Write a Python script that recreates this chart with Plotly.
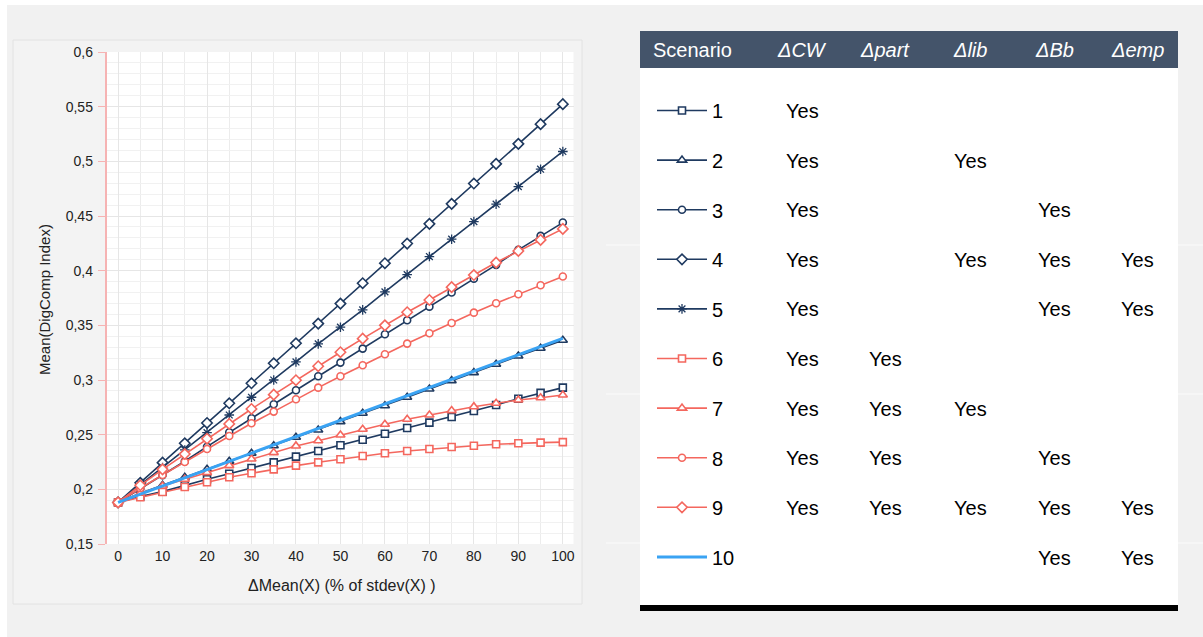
import plotly.graph_objects as go

W, H = 1203, 637

# ---------------- data ----------------
x_vals = [0, 5, 10, 15, 20, 25, 30, 35, 40, 45, 50, 55, 60, 65, 70, 75, 80, 85, 90, 95, 100]

s1 = [0.188, 0.1935, 0.1979, 0.2037, 0.2092, 0.2143, 0.2195, 0.2247, 0.2299, 0.2351, 0.2403,
      0.2454, 0.2509, 0.2561, 0.2610, 0.2662, 0.2717, 0.2772, 0.2829, 0.2882, 0.2930]
s2 = [0.188, 0.1964, 0.2037, 0.2110, 0.2183, 0.2257, 0.2330, 0.2399, 0.2476, 0.2543, 0.2619,
      0.2696, 0.2765, 0.2842, 0.2918, 0.2994, 0.3067, 0.3144, 0.3220, 0.3290, 0.3363]
s3 = [0.188, 0.2005, 0.2130, 0.2257, 0.2390, 0.2522, 0.2650, 0.2778, 0.2906, 0.3034, 0.3159,
      0.3287, 0.3418, 0.3547, 0.3671, 0.3800, 0.3927, 0.4053, 0.4190, 0.4318, 0.4440]
s4 = [0.188, 0.2060, 0.2244, 0.2421, 0.2607, 0.2787, 0.2970, 0.3153, 0.3336, 0.3516, 0.3699,
      0.3885, 0.4068, 0.4248, 0.4428, 0.4611, 0.4797, 0.4977, 0.5160, 0.5340, 0.5523]
s5 = [0.188, 0.2040, 0.2200, 0.2360, 0.2518, 0.2680, 0.2842, 0.3000, 0.3165, 0.3330, 0.3483,
      0.3641, 0.3806, 0.3964, 0.4129, 0.4288, 0.4449, 0.4608, 0.4769, 0.4928, 0.5090]
s6 = [0.188, 0.1927, 0.1976, 0.2022, 0.2065, 0.2110, 0.2147, 0.2183, 0.2217, 0.2247, 0.2275,
      0.2305, 0.2330, 0.2351, 0.2369, 0.2387, 0.2399, 0.2412, 0.2421, 0.2427, 0.2432]
s7 = [0.188, 0.1964, 0.2031, 0.2092, 0.2153, 0.2217, 0.2278, 0.2336, 0.2397, 0.2445, 0.2497,
      0.2550, 0.2595, 0.2641, 0.2680, 0.2720, 0.2756, 0.2787, 0.2817, 0.2838, 0.2863]
s8 = [0.188, 0.2010, 0.2131, 0.2250, 0.2369, 0.2488, 0.2604, 0.2711, 0.2824, 0.2930, 0.3034,
      0.3135, 0.3236, 0.3333, 0.3428, 0.3522, 0.3616, 0.3702, 0.3784, 0.3867, 0.3946]
s9 = [0.188, 0.2037, 0.2183, 0.2323, 0.2463, 0.2598, 0.2735, 0.2866, 0.2998, 0.3126, 0.3254,
      0.3378, 0.3500, 0.3620, 0.3732, 0.3849, 0.3960, 0.4074, 0.4180, 0.4281, 0.4382]
s10 = [0.188, 0.1957, 0.2032, 0.2106, 0.2181, 0.2256, 0.2331, 0.2405, 0.2480, 0.2554, 0.2629,
       0.2704, 0.2779, 0.2853, 0.2928, 0.3003, 0.3078, 0.3152, 0.3227, 0.3302, 0.3381]

scenario_names = ["1", "2", "3", "4", "5", "6", "7", "8", "9", "10"]
series = [s1, s2, s3, s4, s5, s6, s7, s8, s9, s10]

table_columns = ["ΔCW", "Δpart", "Δlib", "ΔBb", "Δemp"]
yes_cw   = [1, 1, 1, 1, 1, 1, 1, 1, 1, 0]
yes_part = [0, 0, 0, 0, 0, 1, 1, 1, 1, 0]
yes_lib  = [0, 1, 0, 1, 0, 0, 1, 0, 1, 0]
yes_bb   = [0, 0, 1, 1, 1, 0, 0, 1, 1, 1]
yes_emp  = [0, 0, 0, 1, 1, 0, 0, 0, 1, 1]

y_tick_vals = [0.15, 0.2, 0.25, 0.3, 0.35, 0.4, 0.45, 0.5, 0.55, 0.6]
x_tick_vals = [0, 10, 20, 30, 40, 50, 60, 70, 80, 90, 100]

# ---------------- styles ----------------
NAVY = "#1f3a60"
RED = "#f4675e"
BLUE = "#3aa3f3"
FONT = "Liberation Sans, Arial, Helvetica, sans-serif"

styles = [
    (NAVY, "square", 7), (NAVY, "triangle-up", 8), (NAVY, "circle", 7),
    (NAVY, "diamond", 8), (NAVY, "asterisk", 8),
    (RED, "square", 7), (RED, "triangle-up", 8), (RED, "circle", 7),
    (RED, "diamond", 8), (BLUE, None, 0),
]


def px_x(p):
    return p / W


def px_y(p):
    return 1 - p / H


fig = go.Figure()

for i, (name, vals) in enumerate(zip(scenario_names, series)):
    color, sym, size = styles[i]
    if sym is None:
        fig.add_trace(go.Scatter(
            x=x_vals, y=vals, name=name, mode="lines", legendgroup=name,
            line=dict(color=color, width=3),
        ))
    else:
        if sym == "asterisk":
            mk = dict(symbol=sym, size=size, color=color,
                      line=dict(color=color, width=1.3))
        else:
            mk = dict(symbol=sym, size=size, color="white",
                      line=dict(color=color, width=1.6))
        fig.add_trace(go.Scatter(
            x=x_vals, y=vals, name=name, mode="lines+markers", legendgroup=name,
            line=dict(color=color, width=1.6), marker=mk,
        ))

shapes = []
# white strips at top / left edges
shapes.append(dict(type="rect", xref="paper", yref="paper", x0=0, x1=1, y0=px_y(5), y1=1,
                   fillcolor="white", line=dict(width=0), layer="below"))
shapes.append(dict(type="rect", xref="paper", yref="paper", x0=0, x1=px_x(7), y0=0, y1=1,
                   fillcolor="white", line=dict(width=0), layer="below"))
# chart panel
shapes.append(dict(type="rect", xref="paper", yref="paper", x0=px_x(13), x1=px_x(582),
                   y0=px_y(604), y1=px_y(40), fillcolor="#f3f3f3",
                   line=dict(color="#e2e2e2", width=1), layer="below"))
# plot area background (white)
shapes.append(dict(type="rect", xref="x domain", yref="y domain", x0=0, x1=1, y0=0, y1=1,
                   fillcolor="white", line=dict(width=0), layer="below"))
# faint lines on right side
for yy in [245, 394, 543]:
    shapes.append(dict(type="line", xref="paper", yref="paper", x0=px_x(606), x1=1,
                       y0=px_y(yy), y1=px_y(yy), line=dict(color="#fbfbfb", width=1),
                       layer="below"))
# table body, header and bottom bar
shapes.append(dict(type="rect", xref="paper", yref="paper", x0=px_x(640), x1=px_x(1178),
                   y0=px_y(606), y1=px_y(68), fillcolor="white", line=dict(width=0),
                   layer="below"))
shapes.append(dict(type="rect", xref="paper", yref="paper", x0=px_x(640), x1=px_x(1178),
                   y0=px_y(68), y1=px_y(31), fillcolor="#44546a", line=dict(width=0),
                   layer="below"))
shapes.append(dict(type="rect", xref="paper", yref="paper", x0=px_x(640), x1=px_x(1178),
                   y0=px_y(611), y1=px_y(605), fillcolor="black", line=dict(width=0),
                   layer="below"))

annotations = []
# axis titles
annotations.append(dict(text="Mean(DigComp Index)", xref="paper", yref="paper",
                        x=px_x(44), y=px_y(300), textangle=-90, showarrow=False,
                        xanchor="center", yanchor="middle",
                        font=dict(size=15, color="#222", family=FONT)))
annotations.append(dict(text="ΔMean(X) (% of stdev(X) )", xref="paper", yref="paper",
                        x=px_x(342), y=px_y(585), showarrow=False,
                        xanchor="center", yanchor="middle",
                        font=dict(size=16, color="#222", family=FONT)))
# table header
annotations.append(dict(text="Scenario", xref="paper", yref="paper", x=px_x(651),
                        y=px_y(50), xanchor="left", yanchor="middle", showarrow=False,
                        font=dict(size=20, color="white", family=FONT)))
col_x = [802, 885, 970, 1054, 1137]
for cx, cname in zip(col_x, table_columns):
    annotations.append(dict(text="<i>" + cname + "</i>", xref="paper", yref="paper",
                            x=px_x(cx), y=px_y(50), showarrow=False,
                            xanchor="center", yanchor="middle",
                            font=dict(size=20, color="white", family=FONT)))
# table cells
row_y = [111, 161, 210, 260, 309, 359, 409, 458, 508, 558]
for ci, col in enumerate([yes_cw, yes_part, yes_lib, yes_bb, yes_emp]):
    for ri, flag in enumerate(col):
        if flag:
            annotations.append(dict(text="Yes", xref="paper", yref="paper",
                                    x=px_x(col_x[ci]), y=px_y(row_y[ri]), showarrow=False,
                                    xanchor="center", yanchor="middle",
                                    font=dict(size=20, color="black", family=FONT)))

fig.update_layout(
    width=W, height=H,
    margin=dict(l=0, r=0, t=0, b=0, autoexpand=False),
    paper_bgcolor="#f1f1f1",
    plot_bgcolor="white",
    separators=", ",
    font=dict(family=FONT, color="#222"),
    shapes=shapes,
    annotations=annotations,
    xaxis=dict(domain=[106.5 / W, 573.5 / W], range=[-2.6, 102.4],
               tickvals=x_tick_vals, ticks="", showline=False, zeroline=False,
               showgrid=True, gridcolor="#e6e6e6", gridwidth=1,
               minor=dict(dtick=5, tick0=0, showgrid=True, gridcolor="#ececec"),
               tickfont=dict(size=14, color="#222"), ticklabelstandoff=2),
    yaxis=dict(domain=[1 - 544 / H, 1 - 52 / H], range=[0.15, 0.6],
               tickvals=y_tick_vals, ticks="outside", ticklen=7, tickcolor="#f6b3b3",
               showline=True, linecolor="#f6b3b3", linewidth=1.5, zeroline=False,
               showgrid=True, gridcolor="#e6e6e6", gridwidth=1,
               minor=dict(dtick=0.01, tick0=0.15, showgrid=True, gridcolor="#f1f1f1"),
               tickfont=dict(size=14, color="#222"), ticklabelstandoff=2),
    showlegend=True,
    legend=dict(x=px_x(652), y=px_y(91), xanchor="left", yanchor="top",
                bgcolor="rgba(0,0,0,0)", font=dict(size=20, color="black", family=FONT),
                tracegroupgap=20.6, itemwidth=50, traceorder="grouped"),
)

fig.write_html("out.html", post_script="document.body.style.margin='0';",
               config={"displayModeBar": False})
